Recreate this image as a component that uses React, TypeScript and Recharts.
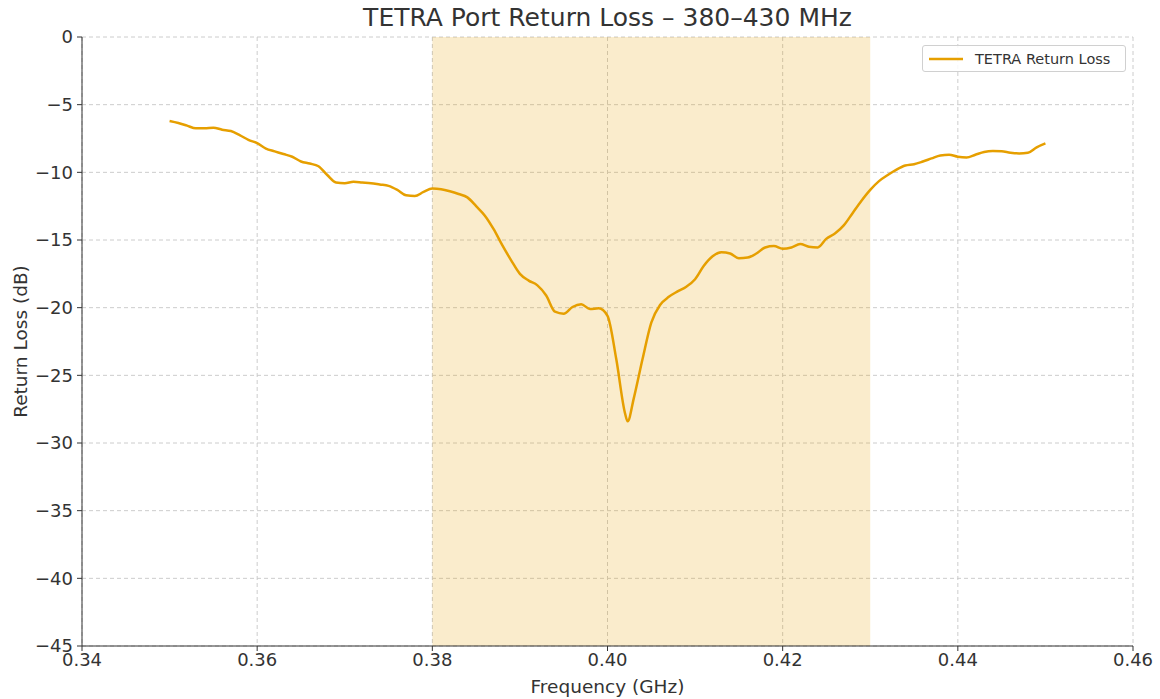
import {
  CartesianGrid,
  Line,
  LineChart,
  ReferenceArea,
  XAxis,
  YAxis,
} from 'recharts'

const freqGHz = [
  0.35, 0.351, 0.352, 0.353, 0.354, 0.355, 0.356, 0.357, 0.358, 0.359,
  0.36, 0.361, 0.362, 0.363, 0.364, 0.365, 0.366, 0.367, 0.368, 0.369,
  0.37, 0.371, 0.372, 0.373, 0.374, 0.375, 0.376, 0.377, 0.378, 0.379,
  0.38, 0.381, 0.382, 0.383, 0.384, 0.385, 0.386, 0.387, 0.388, 0.389,
  0.39, 0.391, 0.392, 0.393, 0.394, 0.395, 0.396, 0.397, 0.398, 0.399,
  0.4, 0.401, 0.402, 0.4023, 0.403, 0.404, 0.405, 0.406, 0.407, 0.408, 0.409,
  0.41, 0.411, 0.412, 0.413, 0.414, 0.415, 0.416, 0.417, 0.418, 0.419,
  0.42, 0.421, 0.422, 0.423, 0.424, 0.425, 0.426, 0.427, 0.428, 0.429,
  0.43, 0.431, 0.432, 0.433, 0.434, 0.435, 0.436, 0.437, 0.438, 0.439,
  0.44, 0.441, 0.442, 0.443, 0.444, 0.445, 0.446, 0.447, 0.448, 0.449,
  0.45,
]

const returnLossDb = [
  -6.2, -6.35, -6.55, -6.75, -6.75, -6.7, -6.85, -6.95, -7.25, -7.6,
  -7.85, -8.25, -8.45, -8.65, -8.85, -9.2, -9.35, -9.55, -10.2, -10.75,
  -10.8, -10.7, -10.75, -10.8, -10.9, -11.0, -11.3, -11.7, -11.75, -11.45,
  -11.2, -11.25, -11.4, -11.6, -11.85, -12.5, -13.2, -14.2, -15.4, -16.5,
  -17.5, -18.0, -18.35, -19.1, -20.3, -20.45, -19.95, -19.75, -20.1, -20.05,
  -20.6, -23.8, -27.8, -28.4, -26.7, -23.8, -21.1, -19.8, -19.2, -18.8, -18.45,
  -17.9, -16.9, -16.2, -15.9, -16.0, -16.35, -16.3, -16.0, -15.55, -15.45,
  -15.65, -15.55, -15.3, -15.5, -15.55, -14.9, -14.5, -13.9, -13.0, -12.1,
  -11.3, -10.65, -10.2, -9.8, -9.5, -9.4, -9.2, -8.97, -8.75, -8.7,
  -8.85, -8.9, -8.7, -8.5, -8.43, -8.45, -8.55, -8.6, -8.55, -8.15,
  -7.86,
]

const xTicks = [0.34, 0.36, 0.38, 0.4, 0.42, 0.44, 0.46]
const yTicks = [0, -5, -10, -15, -20, -25, -30, -35, -40, -45]
const band = [0.38, 0.43]

const data = freqGHz.map((f, i) => ({ f, rl: returnLossDb[i] }))

const FONT = '"DejaVu Sans", sans-serif'
const ORANGE = '#E69F00'
const TEXT = '#333333'

function LegendBox() {
  return (
    <div
      style={{
        position: 'absolute',
        left: 922,
        top: 45,
        width: 204,
        height: 27,
        boxSizing: 'border-box',
        display: 'flex',
        alignItems: 'center',
        gap: 12,
        border: '1px solid #d0d0d0',
        borderRadius: 3,
        background: 'rgba(255,255,255,0.85)',
        padding: '0 6px',
        fontFamily: FONT,
        fontSize: 14.5,
        color: TEXT,
      }}
    >
      <svg width={34} height={4}>
        <line x1={0} y1={2} x2={34} y2={2} stroke={ORANGE} strokeWidth={2.4} />
      </svg>
      <span>TETRA Return Loss</span>
    </div>
  )
}

export default function App() {
  return (
    <div
      style={{
        position: 'absolute',
        left: 0,
        top: 0,
        width: 1160,
        height: 699,
        background: '#fff',
        fontFamily: FONT,
      }}
    >
      <div
        style={{
          position: 'absolute',
          left: 82,
          width: 1051,
          top: 3,
          textAlign: 'center',
          fontSize: 25,
          color: TEXT,
        }}
      >
        TETRA Port Return Loss – 380–430 MHz
      </div>
      <LineChart
        width={1160}
        height={699}
        data={data}
        margin={{ top: 37, right: 27, left: 22, bottom: 0 }}
      >
        <CartesianGrid stroke="#cccccc" strokeDasharray="4 3" />
        <ReferenceArea
          x1={band[0]}
          x2={band[1]}
          fill={ORANGE}
          fillOpacity={0.2}
          stroke="none"
          ifOverflow="visible"
        />
        <XAxis
          dataKey="f"
          type="number"
          domain={[0.34, 0.46]}
          ticks={xTicks}
          allowDataOverflow
          tickFormatter={(v: number) => v.toFixed(2)}
          height={53}
          tickSize={5}
          tickMargin={2}
          stroke={TEXT}
          tick={{ fill: TEXT, fontSize: 18, fontFamily: FONT }}
          label={{
            value: 'Frequency (GHz)',
            position: 'insideBottom',
            offset: 6,
            fill: TEXT,
            fontSize: 18.5,
            fontFamily: FONT,
          }}
        />
        <YAxis
          type="number"
          domain={[-45, 0]}
          ticks={yTicks}
          width={60}
          tickSize={5}
          tickMargin={4}
          stroke={TEXT}
          tick={{ fill: TEXT, fontSize: 18, fontFamily: FONT }}
          tickFormatter={(v: number) => (v < 0 ? `\u2212${Math.abs(v)}` : `${v}`)}
          label={{
            value: 'Return Loss (dB)',
            angle: -90,
            position: 'insideLeft',
            offset: -2,
            style: { textAnchor: 'middle' },
            fill: TEXT,
            fontSize: 18.5,
            fontFamily: FONT,
          }}
        />
        <Line
          type="monotone"
          dataKey="rl"
          stroke={ORANGE}
          strokeWidth={2.5}
          dot={false}
          isAnimationActive={false}
          name="TETRA Return Loss"
        />
      </LineChart>
      <LegendBox />
    </div>
  )
}
